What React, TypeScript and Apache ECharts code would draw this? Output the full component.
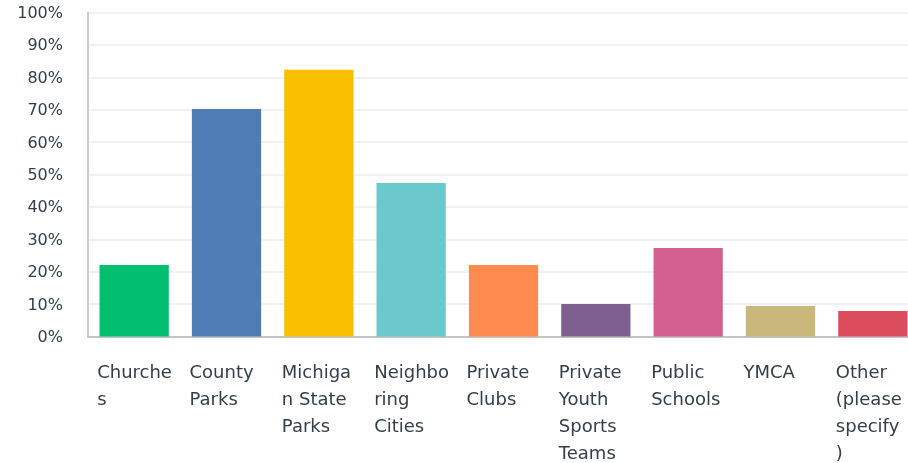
import React, { useEffect, useRef } from "react";
import * as echarts from "echarts";

const categories = [
  "Churches",
  "County Parks",
  "Michigan State Parks",
  "Neighboring Cities",
  "Private Clubs",
  "Private Youth Sports Teams",
  "Public Schools",
  "YMCA",
  "Other (please specify)",
];
const values = [22.1, 70.2, 82.3, 47.4, 22.1, 10.0, 27.3, 9.4, 7.9];
const colors = [
  "#00bf6f",
  "#507cb6",
  "#f9be00",
  "#6bc8cd",
  "#ff8b4f",
  "#7f5f90",
  "#d25f90",
  "#c9b77b",
  "#db4d5c",
];

const FONT = "DejaVu Sans";
const TEXT = "#333e48";

function wrap(label: string, max = 7): string[] {
  const lines: string[] = [];
  let cur = "";
  for (const word of label.split(" ")) {
    const cand = cur ? cur + " " + word : word;
    if (cand.length <= max) {
      cur = cand;
      continue;
    }
    if (cur) lines.push(cur);
    let w = word;
    while (w.length > max) {
      lines.push(w.slice(0, max));
      w = w.slice(max);
    }
    cur = w;
  }
  if (cur) lines.push(cur);
  return lines;
}

export default function App() {
  const ref = useRef<HTMLDivElement>(null);
  useEffect(() => {
    document.body.style.overflow = "hidden";
    if (!ref.current) return;
    const chart = echarts.init(ref.current, undefined, { renderer: "svg" });
    chart.setOption({
      animation: false,
      grid: { left: 88, right: 0, top: 12.5, bottom: 126.5, containLabel: false },
      xAxis: {
        type: "category",
        data: categories,
        axisTick: { show: false },
        axisLine: { lineStyle: { color: "#c4c4c4", width: 2 } },
        axisLabel: {
          interval: 0,
          margin: 21,
          align: "center",
          formatter: (v: string) => wrap(v).map((l) => `{a|${l}}`).join("\n"),
          rich: {
            a: {
              width: 74,
              align: "left",
              fontSize: 18,
              fontFamily: FONT,
              color: TEXT,
              lineHeight: 27,
            },
          },
        },
      },
      yAxis: {
        type: "value",
        min: 0,
        max: 100,
        interval: 10,
        axisLine: { show: true, lineStyle: { color: "#cccccc", width: 2 } },
        axisTick: { show: false },
        splitLine: { lineStyle: { color: "#ececec", width: 1.5 } },
        axisLabel: {
          formatter: "{value}%",
          margin: 25,
          fontSize: 16,
          fontFamily: FONT,
          color: TEXT,
        },
      },
      series: [
        {
          type: "bar",
          barCategoryGap: "25%",
          data: values.map((v, i) => ({ value: v, itemStyle: { color: colors[i] } })),
        },
      ],
    });
    return () => chart.dispose();
  }, []);
  return (
    <div
      ref={ref}
      style={{ position: "fixed", left: 0, top: 0, width: 919, height: 463 }}
    />
  );
}
